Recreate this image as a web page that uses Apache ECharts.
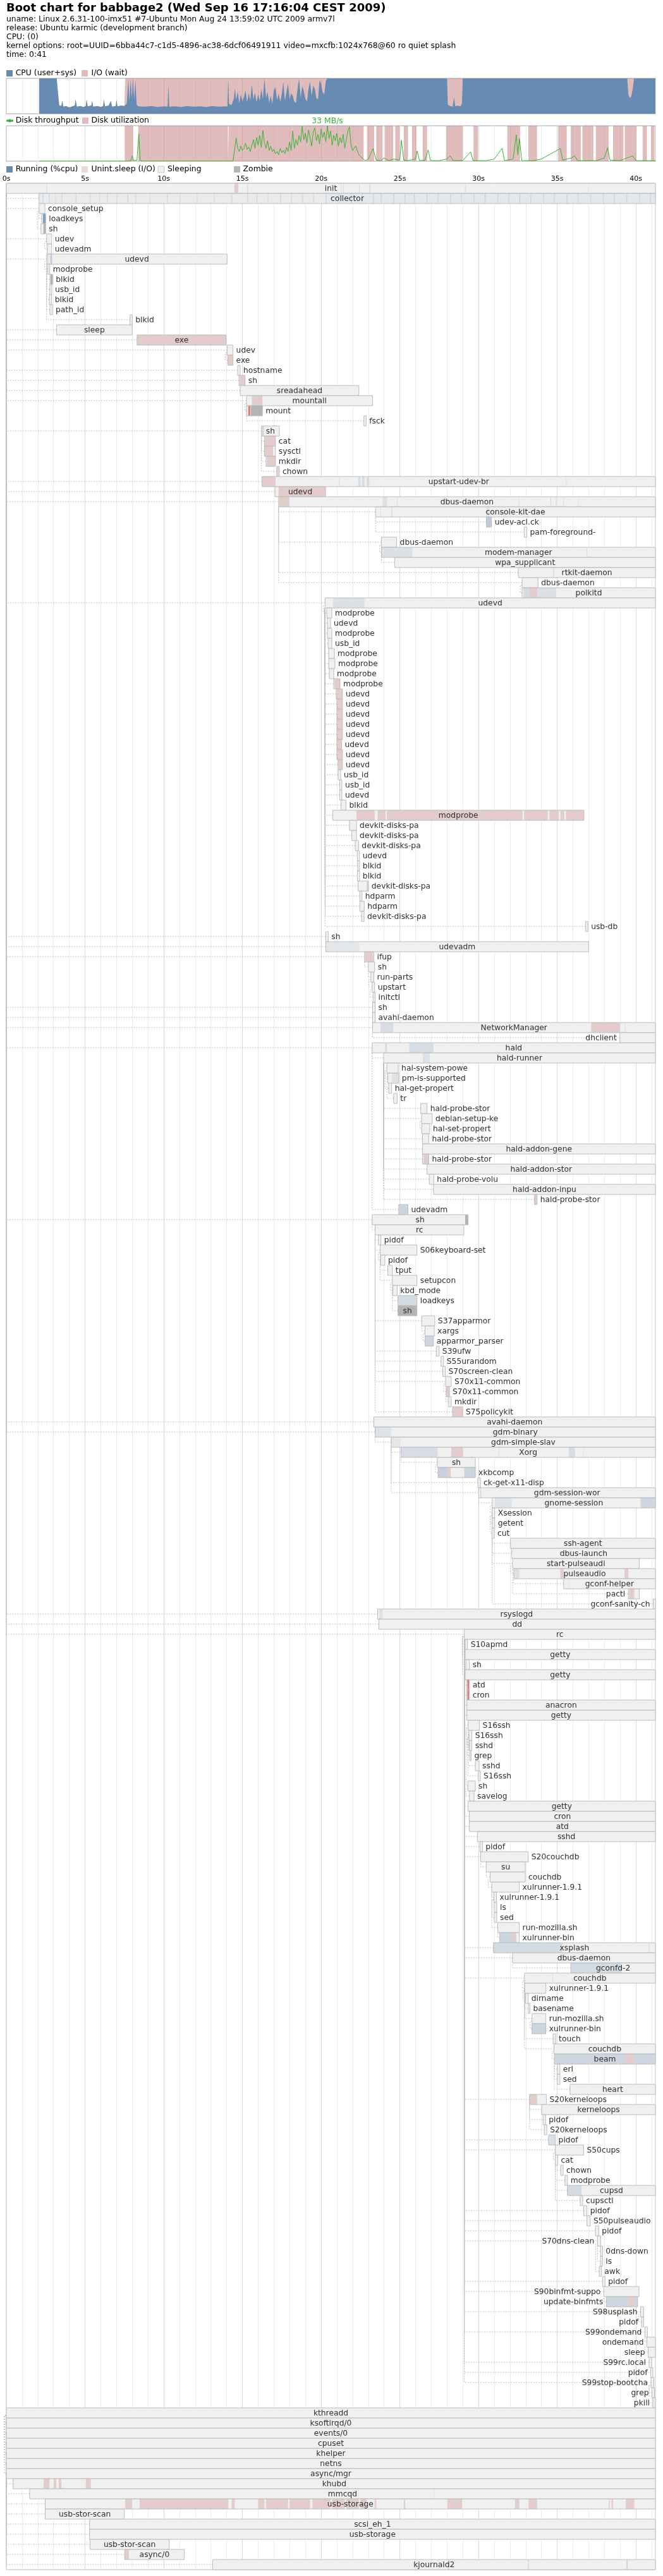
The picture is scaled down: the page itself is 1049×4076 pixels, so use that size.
<!DOCTYPE html>
<html><head><meta charset="utf-8">
<script src="https://cdn.jsdelivr.net/npm/echarts@6/dist/echarts.min.js"></script>
<style>html,body{margin:0;padding:0;background:#fff}#c{width:1049px;height:4076px}</style>
</head><body><div id="c"></div>
<script>
// ---------------- header text ----------------
const titleText = "Boot chart for babbage2 (Wed Sep 16 17:16:04 CEST 2009)";
const headerLines = [
  "uname: Linux 2.6.31-100-imx51 #7-Ubuntu Mon Aug 24 13:59:02 UTC 2009 armv7l",
  "release: Ubuntu karmic (development branch)",
  "CPU: (0)",
  "kernel options: root=UUID=6bba44c7-c1d5-4896-ac38-6dcf06491911 video=mxcfb:1024x768@60 ro quiet splash",
  "time: 0:41"
];
const tickSeconds = [0, 5, 10, 15, 20, 25, 30, 35, 40];
const T_MAX = 41.24;

// ---------------- CPU chart (percent) ----------------
const cpuTime = [2.09,3.2,3.28,3.36,3.5,3.55,3.62,3.8,4.0,4.2,4.35,4.4,4.48,4.7,4.9,5.05,5.1,5.17,5.4,5.45,5.52,5.8,6.0,6.15,6.2,6.27,6.5,6.64,6.72,6.95,7.0,7.06,7.3,7.5,
  7.55,7.66,7.75,7.82,7.9,7.97,8.05,8.12,8.2,8.28,8.4,8.8,9.2,9.6,10.0,10.25,10.3,10.35,10.7,11.1,11.5,11.9,12.3,12.7,13.1,13.5,13.9,14.05,
  14.1,14.15,14.3,14.45,14.52,14.6,14.7,14.8,14.9,15.0,15.1,15.2,15.3,15.4,15.5,15.6,15.7,15.8,15.9,16.0,16.1,16.2,16.3,16.4,16.5,16.6,16.7,16.8,16.9,
  17.0,17.1,17.2,17.3,17.4,17.5,17.6,17.7,17.8,17.9,18.0,18.1,18.2,18.3,18.4,18.5,18.6,18.7,18.8,18.9,19.0,19.1,19.2,19.3,19.4,19.5,19.6,19.7,19.8,19.9,
  20.0,20.1,20.2,20.3,20.38,28.0,28.05,28.2,28.35,28.45,28.52,28.7,28.85,28.95,29.0,39.45,39.52,39.6,39.7,39.8,39.88,41.24];
const cpuUser = [100,100,60,24,22,38,20,22,18,21,23,40,20,22,19,22,40,21,23,36,20,22,19,22,40,21,23,36,20,22,39,21,23,22,
  22,30,100,35,100,45,100,40,95,25,21,20,22,19,21,20,84,20,21,19,22,20,21,19,22,20,21,20,
  100,28,24,42,72,40,62,30,55,35,48,66,33,58,38,82,40,60,32,55,36,70,42,100,45,62,30,52,28,
  66,75,38,57,33,55,90,36,62,85,40,58,50,35,30,70,100,45,78,65,42,35,72,90,50,80,70,45,40,95,
  85,60,55,92,100,100,26,22,20,46,21,23,20,30,100,100,55,45,48,70,100,100];
const cpuIO = [0,0,0,0,0,0,0,0,0,0,0,0,0,0,0,0,0,0,0,0,0,0,0,0,0,0,0,0,0,0,0,0,0,0,
  78,70,0,65,0,55,0,60,5,75,79,80,78,81,79,80,16,80,79,81,78,80,79,81,78,80,79,80,
  0,72,76,58,28,60,38,70,45,65,52,34,67,42,62,18,60,40,68,45,64,30,58,0,55,38,70,48,72,
  34,25,62,43,67,45,10,64,38,15,60,42,50,65,70,30,0,55,22,35,58,65,28,10,50,20,30,55,60,5,
  15,40,45,8,0,0,74,78,80,54,79,77,80,70,0,0,45,55,52,30,0,0];

// ---------------- Disk chart ----------------
const tputTime = [2.09,7.9,8.0,8.1,8.3,8.42,8.5,8.6,14.4,14.5,14.6,14.7,14.8,14.9,15.0,15.1,15.2,15.3,15.4,15.5,15.6,15.7,15.8,15.9,16.0,16.1,16.2,16.3,16.4,16.5,16.6,16.7,16.8,16.9,
  17.0,17.1,17.2,17.3,17.4,17.5,17.6,17.7,17.8,17.9,18.0,18.1,18.2,18.3,18.4,18.5,18.6,18.7,18.8,18.9,19.0,19.1,19.2,19.3,19.4,19.5,19.6,19.7,19.8,19.9,
  20.0,20.1,20.2,20.3,20.4,20.5,20.6,20.7,20.8,20.9,21.0,21.1,21.2,21.3,21.4,21.5,21.6,21.7,21.8,21.9,22.0,22.2,22.4,22.6,22.8,23.0,23.3,23.5,23.8,24.0,24.3,24.6,
  25.0,25.1,25.25,25.5,26.0,26.1,26.25,26.6,26.8,26.95,27.5,28.0,28.2,28.4,29.0,29.5,29.65,30.5,31.0,31.5,31.65,32.2,32.4,32.5,32.6,32.75,33.5,34.0,35.2,35.35,
  35.9,36.1,36.3,37.5,38.0,38.2,38.35,39.0,39.8,40.0,41.24];
const tputVal = [0,0,4.9,0.5,1,25.5,1,0,0,10,21.8,12,9,14,10,12,16.7,11,13,9,14.7,20,12,22,15,24,13,28.5,17,12,19,10,14,9,
  11,7,9,6,12,8,10,7,13,9,18,10,28,12,20,15,24,18,32.5,20,26,17,29,22,14,27,31,19,25,16,
  30,22,27,18,33,21,28,15,24,19,26,14,22,17,25,12,20,28,32,15,10,14,6,3,0.5,2,11.8,1,0.5,3,0.5,2,
  1,19.6,1,0.5,2,9.5,0.5,1,10.5,0.5,0.5,2,5,0.5,0.5,8.8,0.5,0.5,2,12,0.5,2,24.7,6,21,0.5,0.5,2,11.8,1,
  3,5,0.5,0.5,3,12.5,1,0.5,5,0.5,0.5];
const utilSegs = [[7.52,8.06],[8.38,14.08],[14.13,22.7],[22.92,23.37],[23.5,23.91],[24.04,24.58],[24.71,24.98],[25.25,25.52],[25.78,26.06],[26.46,26.73],
  [27.94,29.0],[29.68,29.96],[31.83,32.64],[33.17,33.72],[35.06,35.6],[35.86,36.5],[36.6,37.3],[37.45,38.27],[38.55,39.2],[39.3,40.03],[40.43,40.7],[40.96,41.18]];

// ---------------- processes (row order) ----------------
const procName = [
  "init","collector","console_setup","loadkeys","sh","udev","udevadm","udevd","modprobe","blkid",
  "usb_id","blkid","path_id","blkid","sleep","exe","udev","exe","hostname","sh",
  "sreadahead","mountall","mount","fsck","sh","cat","sysctl","mkdir","chown","upstart-udev-br",
  "udevd","dbus-daemon","console-kit-dae","udev-acl.ck","pam-foreground-","dbus-daemon","modem-manager","wpa_supplicant","rtkit-daemon","dbus-daemon",
  "polkitd","udevd","modprobe","udevd","modprobe","usb_id","modprobe","modprobe","modprobe","modprobe",
  "udevd","udevd","udevd","udevd","udevd","udevd","udevd","udevd","usb_id","usb_id",
  "udevd","blkid","modprobe","devkit-disks-pa","devkit-disks-pa","devkit-disks-pa","udevd","blkid","blkid","devkit-disks-pa",
  "hdparm","hdparm","devkit-disks-pa","usb-db","sh","udevadm","ifup","sh","run-parts","upstart",
  "initctl","sh","avahi-daemon","NetworkManager","dhclient","hald","hald-runner","hal-system-powe","pm-is-supported","hal-get-propert",
  "tr","hald-probe-stor","debian-setup-ke","hal-set-propert","hald-probe-stor","hald-addon-gene","hald-probe-stor","hald-addon-stor","hald-probe-volu","hald-addon-inpu",
  "hald-probe-stor","udevadm","sh","rc","pidof","S06keyboard-set","pidof","tput","setupcon","kbd_mode",
  "loadkeys","sh","S37apparmor","xargs","apparmor_parser","S39ufw","S55urandom","S70screen-clean","S70x11-common","S70x11-common",
  "mkdir","S75policykit","avahi-daemon","gdm-binary","gdm-simple-slav","Xorg","sh","xkbcomp","ck-get-x11-disp","gdm-session-wor",
  "gnome-session","Xsession","getent","cut","ssh-agent","dbus-launch","start-pulseaudi","pulseaudio","gconf-helper","pactl",
  "gconf-sanity-ch","rsyslogd","dd","rc","S10apmd","getty","sh","getty","atd","cron",
  "anacron","getty","S16ssh","S16ssh","sshd","grep","sshd","S16ssh","sh","savelog",
  "getty","cron","atd","sshd","pidof","S20couchdb","su","couchdb","xulrunner-1.9.1","xulrunner-1.9.1",
  "ls","sed","run-mozilla.sh","xulrunner-bin","xsplash","dbus-daemon","gconfd-2","couchdb","xulrunner-1.9.1","dirname",
  "basename","run-mozilla.sh","xulrunner-bin","touch","couchdb","beam","erl","sed","heart","S20kerneloops",
  "kerneloops","pidof","S20kerneloops","pidof","S50cups","cat","chown","modprobe","cupsd","cupsctl",
  "pidof","S50pulseaudio","pidof","S70dns-clean","0dns-down","ls","awk","pidof","S90binfmt-suppo","update-binfmts",
  "S98usplash","pidof","S99ondemand","ondemand","sleep","S99rc.local","pidof","S99stop-bootcha","grep","pkill",
  "kthreadd","ksoftirqd/0","events/0","cpuset","khelper","netns","async/mgr","khubd","mmcqd","usb-storage",
  "usb-stor-scan","scsi_eh_1","usb-storage","usb-stor-scan","async/0","kjournald2"
];
const procStart = [
  0,2.09,2.09,2.25,2.2,2.56,2.6,2.56,2.64,2.77,
  2.76,2.73,2.77,7.86,3.19,8.31,14.03,14.07,14.7,14.78,
  14.86,15.26,15.26,22.72,16.21,16.4,16.4,16.5,17.18,16.24,
  17.07,17.3,23.46,30.5,32.9,23.83,23.83,24.67,32.53,32.77,
  32.77,20.25,20.36,20.4,20.4,20.44,20.48,20.48,20.52,20.8,
  20.96,21.0,21.0,21.0,21.0,21.0,21.0,21.08,21.08,21.18,
  21.18,21.26,20.74,21.8,21.95,22.17,22.3,22.32,22.3,22.35,
  22.46,22.46,22.57,36.8,20.29,20.29,22.76,23.0,23.16,23.24,
  23.3,23.27,23.27,23.27,38.98,23.24,23.97,24.18,24.24,24.29,
  24.61,26.33,26.39,26.39,26.44,26.44,26.44,26.73,26.87,27.14,
  33.56,24.93,23.24,23.43,23.64,23.75,23.78,24.24,24.53,24.56,
  24.88,24.88,26.39,26.6,26.6,27.32,27.62,27.73,27.91,27.96,
  28.1,28.35,23.35,23.43,24.45,25.07,27.38,27.43,29.96,30.01,
  30.87,30.87,30.87,30.85,32.03,32.11,32.16,32.24,35.41,39.52,
  41.1,23.59,23.67,29.1,29.15,29.15,29.2,29.15,29.26,29.26,
  29.26,29.26,29.34,29.4,29.4,29.45,29.8,29.99,29.32,29.42,
  29.34,29.42,29.42,29.93,30.09,30.14,30.49,30.74,30.84,30.98,
  31.0,31.0,31.22,31.35,30.95,32.16,35.87,32.92,32.94,32.99,
  33.16,33.4,33.4,34.74,34.8,34.82,35.0,35.0,35.81,33.24,
  34.02,34.1,34.18,34.45,34.88,34.88,35.22,35.49,35.65,36.46,
  36.68,36.89,37.43,37.56,37.75,37.75,37.67,37.88,37.96,38.12,
  40.3,40.36,40.57,40.7,40.78,40.84,40.94,40.96,41.02,41.08,
  0,0,0,0,0,0,0,0.43,1.48,2.47,
  2.47,5.29,5.29,5.32,7.52,13.11
];
const procEnd = [
  41.24,41.24,2.45,2.5,2.5,2.88,2.88,14.03,2.76,2.94,
  2.89,2.88,2.93,8.0,8.0,13.96,14.4,14.4,14.86,15.17,
  22.4,23.27,16.27,22.86,17.35,17.1,17.1,17.1,17.35,41.24,
  20.28,41.24,41.24,30.83,33.07,24.8,41.24,41.24,41.24,33.78,
  41.24,41.24,20.68,20.6,20.68,20.68,20.84,20.88,20.8,21.2,
  21.36,21.36,21.36,21.36,21.36,21.3,21.36,21.36,21.24,21.32,
  21.32,21.58,36.7,22.25,22.25,22.38,22.44,22.44,22.44,23.0,
  22.6,22.74,22.73,36.95,20.45,37.0,23.35,23.4,23.35,23.4,
  23.43,23.43,23.43,41.24,41.24,41.24,41.24,24.9,24.93,24.48,
  24.83,26.73,27.06,26.9,26.84,41.24,26.84,41.24,27.16,41.24,
  33.72,25.52,29.34,29.07,23.8,26.09,24.05,24.53,26.09,24.83,
  26.09,26.09,27.22,27.19,27.14,27.5,27.78,27.89,28.27,28.15,
  28.27,28.99,41.24,41.24,41.24,41.24,29.8,29.8,30.12,41.24,
  41.24,31.03,31.03,31.0,41.24,41.24,40.22,41.24,41.24,40.22,
  41.24,41.24,41.24,41.24,29.3,41.24,29.42,41.24,29.42,29.42,
  41.24,41.24,30.06,29.58,29.58,29.53,30.04,30.12,29.8,29.72,
  41.24,41.24,41.24,41.24,30.25,33.16,32.97,32.97,32.59,31.14,
  31.16,31.16,32.59,32.59,41.24,41.24,41.24,41.24,34.28,33.16,
  33.27,34.28,34.28,34.9,41.24,41.24,35.17,35.17,41.24,34.31,
  41.24,34.26,34.34,34.88,36.68,35.04,35.38,35.65,41.24,36.62,
  36.89,37.1,37.64,37.76,37.88,37.88,37.8,38.04,40.2,40.11,
  40.49,40.49,40.73,41.24,41.24,41.0,41.08,41.14,41.18,41.24,
  41.24,41.24,41.24,41.24,41.24,41.24,41.24,41.24,41.24,41.24,
  7.5,41.24,41.24,10.35,11.31,41.24
];
const procParent = [
  -1,0,0,2,2,0,5,0,7,7,
  7,7,7,7,0,0,0,16,0,0,
  0,0,21,21,0,24,24,24,24,0,
  0,0,31,32,32,31,35,35,31,31,
  39,0,41,41,41,41,41,41,41,41,
  41,41,41,41,41,41,41,41,41,41,
  41,41,41,41,41,41,41,41,41,41,
  41,41,41,41,0,0,0,76,77,78,
  79,0,0,0,83,0,85,86,87,87,
  87,86,86,92,86,86,86,86,86,86,
  86,85,0,102,103,103,105,105,105,108,
  108,108,103,112,113,103,103,103,103,118,
  118,103,0,0,123,124,125,126,124,124,
  129,130,131,131,130,130,130,136,137,136,
  130,0,0,0,143,143,143,143,143,143,
  143,143,143,152,153,153,152,152,152,158,
  143,143,143,143,143,143,165,166,167,168,
  169,169,168,172,143,143,175,143,177,178,
  178,178,181,177,177,184,185,185,185,143,
  189,189,189,143,143,194,194,194,194,194,
  143,143,143,143,203,203,203,143,143,208,
  143,210,143,212,213,143,143,143,217,217,
  -1,220,220,220,220,220,220,220,220,220,
  220,220,220,220,220,220
];

// process state segments: [row, from, to, (alpha)]
const runSegs = [
  [0,2.55,2.6,0.3],[0,15.3,15.36,0.3],[0,21.26,21.3,0.25],[0,21.4,21.44,0.25],[0,22.4,22.45,0.3],[0,23.07,23.12,0.35],[0,29.14,29.2,0.2],[0,36.97,37.02,0.15],
  [1,2.09,20.5,0.08],[1,20.5,41.24,0.14],
  [1,2.3,2.35,0.3],[1,2.7,2.75,0.3],[1,3.1,3.15,0.25],[1,3.5,3.55,0.3],[1,4.4,4.45,0.3],[1,5.3,5.35,0.3],[1,5.9,5.95,0.25],[1,6.4,6.45,0.3],[1,7.0,7.05,0.3],
  [1,7.7,7.75,0.35],[1,8.2,8.25,0.3],[1,9.1,9.15,0.25],[1,10.2,10.25,0.3],[1,11.0,11.05,0.25],[1,12.1,12.15,0.3],[1,13.2,13.25,0.25],[1,14.3,14.35,0.35],
  [1,15.3,15.35,0.3],[1,15.9,15.95,0.35],[1,16.6,16.65,0.3],[1,17.4,17.45,0.35],[1,18.1,18.15,0.3],[1,18.8,18.85,0.35],[1,19.5,19.55,0.3],[1,20.3,20.35,0.4],
  [1,21.1,21.15,0.35],[1,21.9,21.95,0.4],[1,22.6,22.65,0.35],[1,23.3,23.35,0.4],[1,23.8,23.85,0.35],[1,24.6,24.65,0.4],[1,25.3,25.35,0.35],[1,25.9,25.95,0.4],
  [1,26.7,26.75,0.35],[1,27.4,27.45,0.3],[1,28.2,28.25,0.35],[1,28.9,28.95,0.3],[1,29.7,29.75,0.35],[1,30.4,30.45,0.4],[1,31.2,31.25,0.35],[1,31.9,31.95,0.3],
  [1,32.6,32.65,0.4],[1,33.3,33.35,0.35],[1,34.1,34.15,0.3],[1,34.8,34.85,0.35],[1,35.6,35.65,0.4],[1,36.3,36.35,0.3],[1,37.1,37.15,0.35],[1,37.9,37.95,0.3],
  [1,38.6,38.65,0.4],[1,39.4,39.45,0.35],[1,40.2,40.25,0.3],[1,40.9,40.95,0.35],
  [3,2.33,2.5,0.8],
  [7,2.6,2.65,0.4],[7,2.7,2.73,0.3],[7,2.8,2.9,0.6],[7,7.85,7.88,0.3],
  [29,21.14,21.18,0.3],[29,22.36,22.5,0.3],[29,22.6,22.75,0.3],[29,22.9,23.06,0.35],[29,35.55,35.6,0.2],
  [31,23.9,24.2,0.25],[31,24.82,24.86,0.3],[31,32.55,32.59,0.2],[31,34.57,34.62,0.35],[31,34.9,35.0,0.25],[31,35.38,35.42,0.3],[31,36.33,36.37,0.2],
  [32,23.76,23.8,0.3],[32,24.48,24.53,0.35],[32,30.5,30.72,0.25],
  [33,30.5,30.83,0.6],
  [36,23.83,25.8,0.25],[36,36.86,36.9,0.3],
  [38,34.75,34.8,0.4],
  [40,32.86,33.26,0.35],[40,33.73,34.94,0.25],
  [41,20.75,22.76,0.25],
  [75,20.29,22.43,0.15],
  [83,23.78,24.58,0.3],[83,38.97,39.0,0.3],[83,39.3,39.33,0.3],
  [85,24.06,24.18,0.3],[85,25.6,27.14,0.3],
  [86,26.46,26.9,0.25],
  [88,24.5,24.93,0.2],
  [101,24.93,25.52,0.45],
  [110,24.88,26.09,0.35],
  [114,26.6,27.14,0.4],
  [123,23.43,24.45,0.2],
  [124,24.45,25.04,0.15],
  [125,25.07,27.4,0.3],[125,31.28,31.32,0.2],[125,35.73,36.13,0.3],[125,36.66,36.7,0.2],
  [127,27.43,28.02,0.5],[127,29.1,29.8,0.45],
  [129,30.12,30.17,0.5],
  [130,31.03,32.11,0.2],[130,40.3,41.24,0.4],
  [137,32.24,32.59,0.25],
  [138,35.72,35.76,0.2],
  [141,23.7,23.9,0.25],
  [154,29.4,29.48,0.4],
  [173,31.35,32.1,0.45],
  [174,30.95,35.33,0.35],[174,40.82,40.86,0.3],
  [176,35.87,39.09,0.35],
  [177,34.69,34.73,0.3],
  [182,33.4,34.28,0.45],
  [185,34.82,39.36,0.4],[185,39.9,41.24,0.4],
  [193,34.45,34.88,0.25],
  [198,35.65,36.54,0.35],
  [209,38.12,39.5,0.4],[209,39.9,40.11,0.4],
  [228,22.33,22.37,0.2],[228,27.17,27.21,0.15]
];
const ioSegs = [
  [0,14.49,14.73],
  [15,8.31,13.96],[17,14.07,14.4],[19,14.82,15.17],[21,15.6,16.27],
  [24,16.25,16.35],[25,16.4,17.1],[26,16.4,16.95],[27,16.55,17.1],[28,17.2,17.3],
  [29,16.24,17.11],[30,17.3,20.28],[31,17.34,17.98],[40,33.26,33.73],
  [49,20.85,21.2],[50,20.98,21.36],[51,21.0,21.36],[52,21.0,21.36],[53,21.0,21.36],[54,21.0,21.36],[55,21.0,21.3],[56,21.0,21.36],[57,21.1,21.36],
  [62,22.25,23.4],[62,23.6,24.1],[62,24.18,32.8],[62,32.9,34.4],[62,34.5,35.1],[62,35.2,35.45],[62,35.55,36.7],
  [69,22.9,23.0],[76,22.8,23.3],[83,37.16,38.98],[96,26.5,26.84],[100,33.56,33.72],
  [119,27.96,28.15],[121,28.35,28.99],[125,28.27,29.02],[127,28.02,28.23],
  [137,35.2,35.41],[137,39.28,39.52],[139,39.57,39.9],
  [173,32.1,32.4],[185,39.36,39.9],[189,33.24,33.72],[209,39.5,39.9],
  [227,2.37,2.74],[227,3.01,3.17],[227,3.33,3.49],[227,5.05,5.37],
  [229,7.55,8.0],[229,8.47,14.1],[229,14.32,14.51],[229,16.0,16.4],[229,16.5,17.9],[229,18.0,19.3],[229,19.45,20.6],[229,20.7,21.5],[229,21.6,22.4],
  [229,22.5,22.9],[229,23.4,23.5],[229,25.26,25.34],[229,28.02,28.96],[229,32.32,32.59],[229,33.18,33.72],[229,38.28,38.34],[229,38.45,38.55],[229,39.36,39.9],
  [234,7.52,7.79],
  [235,28.05,28.12],[235,33.15,33.2],[235,39.4,39.47]
];
const zombieSegs = [[4,2.36,2.5],[9,2.81,2.94],[22,15.53,16.27],[111,24.88,26.09],[102,29.15,29.34]];
const stopSegs = [[22,15.37,15.5],[148,29.29,29.4],[149,29.29,29.4]];

// ---------------- styling constants ----------------
const FONT = 'DejaVu Sans';
const CPU_COLOR = '#668cb3';
const IO_COLOR = 'rgba(194,122,122,0.5)';
const PROC_D = 'rgba(194,122,122,0.3)';
const PROC_S = '#f0f0f0';
const PROC_Z = '#b4b4b4';
const PROC_T = 'rgba(226,110,110,0.9)';
const PROC_BORDER = '#bcbcbc';
const DEP_COLOR = '#bfbfbf';
const TPUT_COLOR = '#33b533';
const SPLIT_COLORS = ['#dadada', '#ebebeb', '#ebebeb', '#ebebeb', '#ebebeb'];
const RUN_ALPHA_SCALE = 0.6;
const PROC_FS = 12.3;
const ROWS = procName.length;

// ---------------- derived tables ----------------
const cpuTotalData = cpuTime.map((t, k) => [t, cpuUser[k] + cpuIO[k]]);
const cpuUserData = cpuTime.map((t, k) => [t, cpuUser[k]]);
const utilData = [[2.09, 0]];
utilSegs.forEach(([a, b]) => { utilData.push([a, 0], [a, 100], [b, 100], [b, 0]); });
utilData.push([T_MAX, 0]);
const tputData = tputTime.map((t, k) => [t, tputVal[k]]);

const segsByRow = procName.map(() => []);
runSegs.forEach(s => segsByRow[s[0]].push({a: s[1], b: s[2],
  color: 'rgba(102,140,179,' + ((s[3] == null ? 0.3 : s[3]) * (s[0] === 3 ? 1 : RUN_ALPHA_SCALE)).toFixed(3) + ')'}));
ioSegs.forEach(s => segsByRow[s[0]].push({a: s[1], b: s[2], color: PROC_D}));
zombieSegs.forEach(s => segsByRow[s[0]].push({a: s[1], b: s[2], color: PROC_Z}));
stopSegs.forEach(s => segsByRow[s[0]].push({a: s[1], b: s[2], color: PROC_T}));

const mctx = document.createElement('canvas').getContext('2d');
mctx.font = PROC_FS + 'px "' + FONT + '"';
const textW = s => mctx.measureText(s).width;

const procData = procName.map((n, i) => [procStart[i], i, procEnd[i]]);

function boxGeom(api, i) {
  const x0 = api.coord([procStart[i], i])[0];
  const x1 = api.coord([procEnd[i], i])[0];
  const y0 = api.coord([0, i])[1];
  const y1 = api.coord([0, i + 1])[1];
  return {x: x0, w: Math.max(x1 - x0, 1), y: y0, h: y1 - y0};
}

function renderConn(params, api) {
  const i = params.dataIndex;
  const p = procParent[i];
  if (p < 0) return null;
  const c = boxGeom(api, i), pg = boxGeom(api, p);
  const midY = c.y + c.h / 2;
  let pts;
  if (Math.abs(pg.x - c.x) < 3) {
    pts = [[c.x, midY], [pg.x - 3, midY], [pg.x - 3, pg.y + pg.h - pg.h / 4], [pg.x, pg.y + pg.h - pg.h / 4]];
  } else {
    pts = [[c.x, midY], [pg.x, midY], [pg.x, pg.y + pg.h]];
  }
  return {type: 'polyline', silent: true, shape: {points: pts},
    style: {stroke: DEP_COLOR, lineWidth: 1, lineDash: [2, 2], fill: null}};
}

function renderBox(params, api) {
  const i = params.dataIndex;
  const g = boxGeom(api, i);
  const maxX = api.coord([T_MAX, 0])[0];
  const children = [];
  children.push({type: 'rect', shape: {x: g.x, y: g.y, width: g.w, height: g.h}, style: {fill: PROC_S}});
  segsByRow[i].forEach(s => {
    let a = api.coord([s.a, i])[0], b = api.coord([s.b, i])[0];
    a = Math.max(a, g.x); b = Math.min(b, g.x + g.w);
    if (b - a < 0.8) b = a + 0.8;
    children.push({type: 'rect', shape: {x: a, y: g.y, width: b - a, height: g.h}, style: {fill: s.color}});
  });
  children.push({type: 'rect', shape: {x: g.x, y: g.y, width: g.w, height: g.h},
    style: {fill: 'none', stroke: PROC_BORDER, lineWidth: 1}});
  const name = procName[i];
  const tw = textW(name);
  let lx = g.x + g.w / 2 - tw / 2;
  if (tw + 10 > g.w) lx = g.x + g.w + 5;
  if (lx + tw > maxX) lx = g.x - tw - 5;
  children.push({type: 'text', silent: true,
    style: {text: name, x: lx, y: g.y + 9, fill: '#303030', fontSize: PROC_FS, fontFamily: FONT,
      align: 'left', textAlign: 'left', verticalAlign: 'middle', textVerticalAlign: 'middle'}});
  return {type: 'group', children};
}

function xAxisCfg(gridIndex, withLabels) {
  return {
    type: 'value', gridIndex, min: 0, max: T_MAX, interval: 1, position: 'top',
    axisLine: {show: false}, axisTick: {show: false},
    axisLabel: withLabels ? {show: true, margin: 1, fontSize: 11, fontFamily: FONT, color: '#000',
      showMinLabel: true, showMaxLabel: true, hideOverlap: false,
      formatter: v => tickSeconds.includes(v) ? v + 's' : ''} : {show: false},
    splitLine: {show: true, lineStyle: {color: SPLIT_COLORS, width: 1}}
  };
}

// ---------------- header / legend graphics ----------------
function txt(text, x, y, size, weight, color) {
  return {type: 'text', x: x, y: y, silent: true,
    style: {text, x: 0, y: 0, fill: color || '#000', fontSize: size, fontFamily: FONT, fontWeight: weight || 'normal',
      align: 'left', textAlign: 'left', verticalAlign: 'middle', textVerticalAlign: 'middle'}};
}
function box(x, y, fill, stroke) {
  return {type: 'rect', x: x, y: y, silent: true, shape: {x: 0, y: 0, width: 10, height: 10},
    style: {fill, stroke: stroke || null, lineWidth: 1}};
}
const graphics = [txt(titleText, 10, 13, 18, 'bold')];
headerLines.forEach((l, k) => graphics.push(txt(l, 10, 30.7 + 14 * k, 12.4)));
graphics.push(
  box(10, 111, CPU_COLOR), txt('CPU (user+sys)', 24.7, 116, 12.4),
  box(129, 111, IO_COLOR), txt('I/O (wait)', 144.5, 116, 12.4),
  {type: 'rect', x: 10, y: 189.5, silent: true, shape: {x: 0, y: 0, width: 11, height: 3}, style: {fill: TPUT_COLOR}},
  {type: 'circle', x: 15.5, y: 191, silent: true, shape: {cx: 0, cy: 0, r: 2.5}, style: {fill: TPUT_COLOR}},
  txt('Disk throughput', 24.7, 191, 12.4),
  box(130, 186, IO_COLOR), txt('Disk utilization', 144.5, 191, 12.4),
  box(10, 263, CPU_COLOR), txt('Running (%cpu)', 24.7, 268, 12.4),
  box(129, 263, PROC_D), txt('Unint.sleep (I/O)', 144.5, 268, 12.4),
  box(250, 263, PROC_S, '#c8c8c8'), txt('Sleeping', 265, 268, 12.4),
  box(370, 263, PROC_Z), txt('Zombie', 384.6, 268, 12.4)
);

const chart = echarts.init(document.getElementById('c'), null, {renderer: 'canvas', width: 1049, height: 4076});
chart.setOption({
  animation: false,
  backgroundColor: '#fff',
  grid: [
    {left: 10, top: 124, width: 1027, height: 56, show: true, borderColor: '#c4c4c4', borderWidth: 1.5, backgroundColor: 'transparent'},
    {left: 10, top: 199, width: 1027, height: 56, show: true, borderColor: '#c4c4c4', borderWidth: 1.5, backgroundColor: 'transparent'},
    {left: 10, top: 290, width: 1027, height: 16 * ROWS, show: true, borderColor: '#b8b8b8', borderWidth: 1, backgroundColor: 'transparent'}
  ],
  xAxis: [xAxisCfg(0, false), xAxisCfg(1, false), xAxisCfg(2, true)],
  yAxis: [
    {type: 'value', gridIndex: 0, min: 0, max: 100, show: false},
    {type: 'value', gridIndex: 1, min: 0, max: 100, show: false},
    {type: 'value', gridIndex: 1, min: 0, max: 33, show: false},
    {type: 'value', gridIndex: 2, min: 0, max: ROWS, inverse: true, show: false}
  ],
  graphic: graphics,
  series: [
    {type: 'line', name: 'I/O (wait)', xAxisIndex: 0, yAxisIndex: 0, data: cpuTotalData, symbol: 'none', silent: true,
      lineStyle: {width: 0}, areaStyle: {color: IO_COLOR, opacity: 1}, z: 2},
    {type: 'line', name: 'CPU (user+sys)', xAxisIndex: 0, yAxisIndex: 0, data: cpuUserData, symbol: 'none', silent: true,
      lineStyle: {width: 0}, areaStyle: {color: CPU_COLOR, opacity: 1}, z: 3},
    {type: 'line', name: 'Disk utilization', xAxisIndex: 1, yAxisIndex: 1, data: utilData, symbol: 'none', silent: true,
      lineStyle: {width: 0}, areaStyle: {color: IO_COLOR, opacity: 1}, z: 2},
    {type: 'line', name: 'Disk throughput', xAxisIndex: 1, yAxisIndex: 2, data: tputData, symbol: 'none', silent: true,
      lineStyle: {width: 1, color: TPUT_COLOR}, z: 3,
      markPoint: {symbol: 'circle', symbolSize: 0, silent: true, data: [{type: 'max'}],
        label: {show: true, position: 'top', distance: 1, color: TPUT_COLOR, fontSize: 12.4, fontFamily: FONT,
          formatter: p => Math.round(p.value) + ' MB/s'}}},
    {type: 'custom', name: 'deps', xAxisIndex: 2, yAxisIndex: 3, data: procData, encode: {x: [0, 2], y: 1},
      renderItem: renderConn, z: 2, silent: true, clip: false},
    {type: 'custom', name: 'processes', xAxisIndex: 2, yAxisIndex: 3, data: procData, encode: {x: [0, 2], y: 1},
      renderItem: renderBox, z: 3, silent: true, clip: false}
  ]
});
</script>
</body></html>
